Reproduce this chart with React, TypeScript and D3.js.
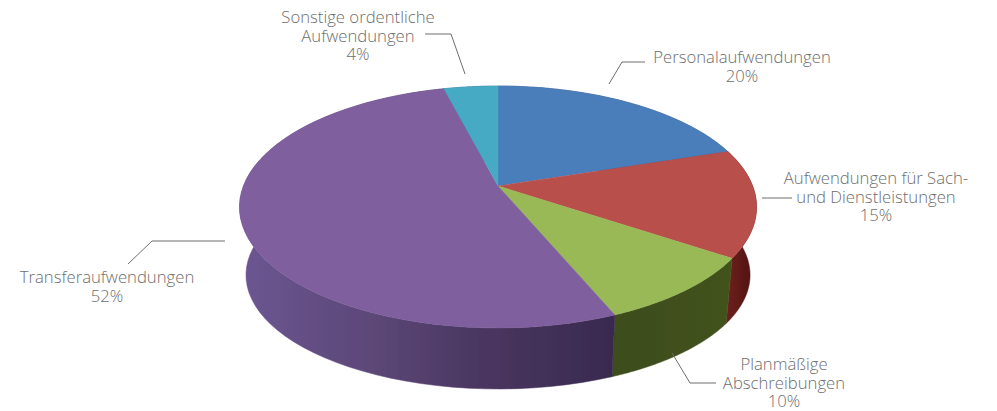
import React from "react";
import * as d3 from "d3";

// Underlying shares (labels are rounded)
const categories = ["Personalaufwendungen", "Aufwendungen für Sach- und Dienstleistungen", "Planmäßige Abschreibungen", "Transferaufwendungen", "Sonstige ordentliche Aufwendungen"];
const sliceValues = [20, 14.4, 9.3, 52.3, 4];
const topColors = ["#4a7ebb", "#b9504c", "#98b954", "#7f5f9e", "#46aac5"];
const sideStops: [number, string][][] = [
  [[0, "#2f5080"], [1, "#2f5080"]],
  [[0, "#6e1f1c"], [1, "#4a1210"]],
  [[0, "#3c4d1b"], [1, "#42521f"]],
  [[0, "#392a4f"], [0.35, "#4a3660"], [0.65, "#5c4878"], [1, "#6c5692"]],
  [[0, "#2d6f80"], [1, "#2d6f80"]],
];
const labelLines = [
  ["Personalaufwendungen", "20%"],
  ["Aufwendungen für Sach-", "und Dienstleistungen", "15%"],
  ["Planmäßige", "Abschreibungen", "10%"],
  ["Transferaufwendungen", "52%"],
  ["Sonstige ordentliche", "Aufwendungen", "4%"],
];
const labelAnchors: [number, number][] = [[742, 63], [876, 184], [784, 370], [107, 283], [358, 23]];
const leaders: [number, number][][] = [
  [[609, 84], [622, 62], [645, 62]],
  [[762, 198], [792, 198]],
  [[672, 353], [690, 383], [716, 383]],
  [[225, 241], [152, 241], [128, 264]],
  [[425, 34], [451, 34], [465, 74]],
];

const W = 997, H = 411;
// perspective disc: apex, radii, foreshortening
const apex = { x: 498, y: 186 };
const R = 254.6, S = 117.36, K = 0.1736;
const rim = (a: number): [number, number] => {
  const u = Math.sin(a), v = -Math.cos(a), d = 1 - K * v;
  return [apex.x + (R * u) / d, apex.y + (S * v) / d];
};
// lower rim: upper rim scaled and pushed down
const low = ([x, y]: [number, number]): [number, number] => [apex.x + (x - apex.x) * 0.975, 275 + (y - 207) * 0.942];

const arcs = d3.pie<number>().sort(null)(sliceValues);
const line = d3.line();
const steps = (a: number, b: number) => d3.range(0, 61).map((i) => a + ((b - a) * i) / 60);

export default function App() {
  return (
    <svg width={W} height={H} viewBox={`0 0 ${W} ${H}`} style={{ position: "absolute", left: 0, top: 0, display: "block", background: "#fff" }}>
      <defs>
        <filter id="soft" x="-5%" y="-5%" width="110%" height="110%"><feGaussianBlur stdDeviation="0.6" /></filter>
        {arcs.map((arc, i) => {
          const pts = steps(arc.startAngle, arc.endAngle).map(rim);
          const xs = d3.extent(pts, (p) => p[0]) as [number, number];
          return (
            <linearGradient key={i} id={`side${i}`} gradientUnits="userSpaceOnUse" x1={i === 3 ? 613 : xs[0]} x2={i === 3 ? 239 : xs[1]} y1={0} y2={0}>
              {sideStops[i].map(([o, c]) => <stop key={o} offset={o} stopColor={c} />)}
            </linearGradient>
          );
        })}
      </defs>
      <g filter="url(#soft)">
        {arcs.map((arc, i) => {
          const top = steps(arc.startAngle, arc.endAngle).map(rim);
          const bottom = top.map(low).reverse();
          return <path key={i} d={line([...top, ...bottom]) + "Z"} fill={`url(#side${i})`} stroke={`url(#side${i})`} strokeWidth={0.5} />;
        })}
        {arcs.map((arc, i) => {
          const top = steps(arc.startAngle, arc.endAngle).map(rim);
          return <path key={i} d={line([[apex.x, apex.y], ...top]) + "Z"} fill={topColors[i]} stroke={topColors[i]} strokeWidth={0.4} />;
        })}
      </g>
      {leaders.map((l, i) => <path key={i} d={line(l) as string} fill="none" stroke="#6e6e6e" strokeWidth={1} />)}
      {labelLines.map((lines, i) => (
        <text key={i} x={labelAnchors[i][0]} y={labelAnchors[i][1]} textAnchor="middle" fontFamily="'Open Sans'" fontWeight={300} fontSize={16.7} fill="#6e6e6e" aria-label={categories[i]}>
          {lines.map((t, j) => <tspan key={j} x={labelAnchors[i][0]} dy={j === 0 ? 0 : 18.6}>{t}</tspan>)}
        </text>
      ))}
    </svg>
  );
}
